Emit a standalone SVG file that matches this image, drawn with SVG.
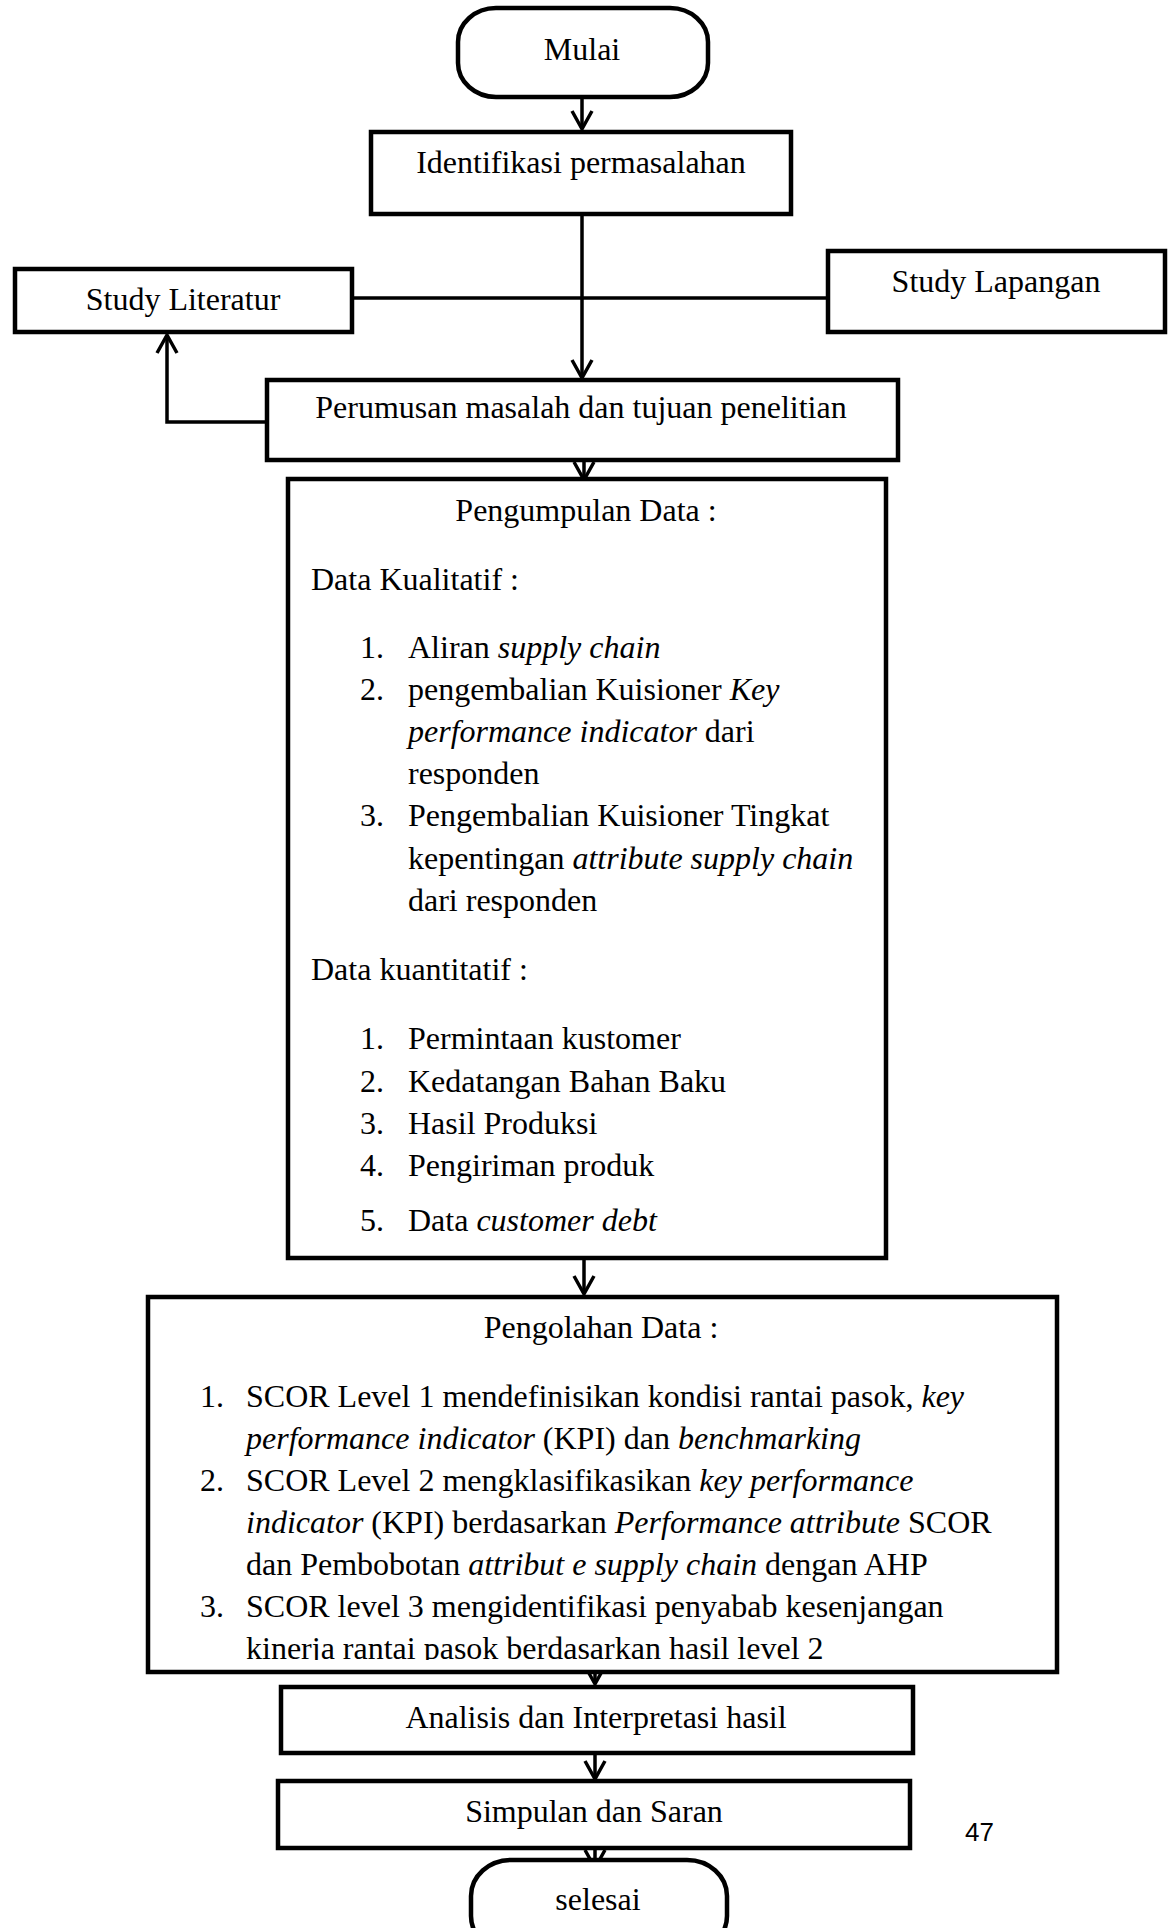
<svg xmlns="http://www.w3.org/2000/svg" width="1176" height="1928" viewBox="0 0 1176 1928">
<style>
.box{fill:#fff;stroke:#000;stroke-width:4.5}
.ln{fill:none;stroke:#000;stroke-width:3.5}
.t{font-family:"Liberation Serif","Times New Roman",serif;font-size:32px;fill:#000}
.c{text-anchor:middle}
.i{font-style:italic}
</style>
<defs>
<marker id="arr" markerUnits="userSpaceOnUse" markerWidth="26" markerHeight="26" viewBox="-22 -13 26 26" refX="0" refY="0" orient="auto">
<path d="M-18,-10 L0,0 L-18,10" fill="none" stroke="#000" stroke-width="3.5"/>
</marker>
<clipPath id="clipL"><rect x="148" y="1300" width="910" height="360"/></clipPath>
</defs>
<rect width="1176" height="1928" fill="#fff"/>

<g id="connectors">
<line class="ln" x1="582" y1="97" x2="582" y2="129" marker-end="url(#arr)"/>
<line class="ln" x1="582" y1="214" x2="582" y2="378" marker-end="url(#arr)"/>
<line class="ln" x1="352" y1="298" x2="828" y2="298"/>
<polyline class="ln" points="267,422 167,422 167,335" marker-end="url(#arr)"/>
<line class="ln" x1="584" y1="447" x2="584" y2="480" marker-end="url(#arr)"/>
<line class="ln" x1="584" y1="1258" x2="584" y2="1294" marker-end="url(#arr)"/>
<line class="ln" x1="595" y1="1657" x2="595" y2="1684" marker-end="url(#arr)"/>
<line class="ln" x1="595" y1="1753" x2="595" y2="1779" marker-end="url(#arr)"/>
<line class="ln" x1="595" y1="1842" x2="595" y2="1868" marker-end="url(#arr)"/>
</g>

<g id="mulai">
<rect class="box" x="458" y="8" width="250" height="89" rx="38" ry="34"/>
<text class="t c" x="582" y="60">Mulai</text>
</g>

<g id="identifikasi">
<rect class="box" x="371" y="132" width="420" height="82"/>
<text class="t c" x="581" y="173">Identifikasi permasalahan</text>
</g>

<g id="study-literatur">
<rect class="box" x="15" y="269" width="337" height="63"/>
<text class="t c" x="183" y="310">Study Literatur</text>
</g>

<g id="study-lapangan">
<rect class="box" x="828" y="251" width="337" height="81"/>
<text class="t c" x="996" y="292">Study Lapangan</text>
</g>

<g id="perumusan">
<rect class="box" x="267" y="380" width="631" height="80"/>
<text class="t c" x="581" y="418">Perumusan masalah dan tujuan penelitian</text>
</g>

<g id="pengumpulan">
<rect class="box" x="288" y="479" width="598" height="779"/>
<text class="t c" x="586" y="521">Pengumpulan Data :</text>
<text class="t" x="311" y="590">Data Kualitatif :</text>
<text class="t" x="360" y="658">1.</text>
<text class="t" x="408" y="658">Aliran <tspan class="i">supply chain</tspan></text>
<text class="t" x="360" y="700">2.</text>
<text class="t" x="408" y="700">pengembalian Kuisioner <tspan class="i">Key</tspan></text>
<text class="t" x="408" y="742"><tspan class="i">performance indicator</tspan> dari</text>
<text class="t" x="408" y="784">responden</text>
<text class="t" x="360" y="826">3.</text>
<text class="t" x="408" y="826">Pengembalian Kuisioner Tingkat</text>
<text class="t" x="408" y="869">kepentingan <tspan class="i">attribute supply chain</tspan></text>
<text class="t" x="408" y="911">dari responden</text>
<text class="t" x="311" y="980">Data kuantitatif :</text>
<text class="t" x="360" y="1049">1.</text>
<text class="t" x="408" y="1049">Permintaan kustomer</text>
<text class="t" x="360" y="1092">2.</text>
<text class="t" x="408" y="1092">Kedatangan Bahan Baku</text>
<text class="t" x="360" y="1134">3.</text>
<text class="t" x="408" y="1134">Hasil Produksi</text>
<text class="t" x="360" y="1176">4.</text>
<text class="t" x="408" y="1176">Pengiriman produk</text>
<text class="t" x="360" y="1231">5.</text>
<text class="t" x="408" y="1231">Data <tspan class="i">customer debt</tspan></text>
</g>

<g id="pengolahan">
<rect class="box" x="148" y="1297" width="909" height="375"/>
<text class="t c" x="601" y="1338">Pengolahan Data :</text>
<text class="t" x="200" y="1407">1.</text>
<text class="t" x="246" y="1407">SCOR Level 1 mendefinisikan kondisi rantai pasok, <tspan class="i">key</tspan></text>
<text class="t" x="246" y="1449"><tspan class="i">performance indicator</tspan> (KPI) dan <tspan class="i">benchmarking</tspan></text>
<text class="t" x="200" y="1491">2.</text>
<text class="t" x="246" y="1491">SCOR Level 2 mengklasifikasikan <tspan class="i">key performance</tspan></text>
<text class="t" x="246" y="1533"><tspan class="i">indicator</tspan> (KPI) berdasarkan <tspan class="i">Performance attribute</tspan> SCOR</text>
<text class="t" x="246" y="1575">dan Pembobotan <tspan class="i">attribut e supply chain</tspan> dengan AHP</text>
<text class="t" x="200" y="1617">3.</text>
<text class="t" x="246" y="1617">SCOR level 3 mengidentifikasi penyabab kesenjangan</text>
<text class="t" x="246" y="1659" clip-path="url(#clipL)">kinerja rantai pasok berdasarkan hasil level 2</text>
</g>

<g id="analisis">
<rect class="box" x="281" y="1687" width="632" height="66"/>
<text class="t c" x="596" y="1728">Analisis dan Interpretasi hasil</text>
</g>

<g id="simpulan">
<rect class="box" x="278" y="1781" width="632" height="67"/>
<text class="t c" x="594" y="1822">Simpulan dan Saran</text>
</g>

<g id="selesai">
<rect class="box" x="471" y="1860" width="256" height="92" rx="40" ry="36"/>
<text class="t c" x="598" y="1910">selesai</text>
</g>

<text x="965" y="1841" font-family="Liberation Sans, Arial, sans-serif" font-size="26" fill="#000">47</text>
</svg>
